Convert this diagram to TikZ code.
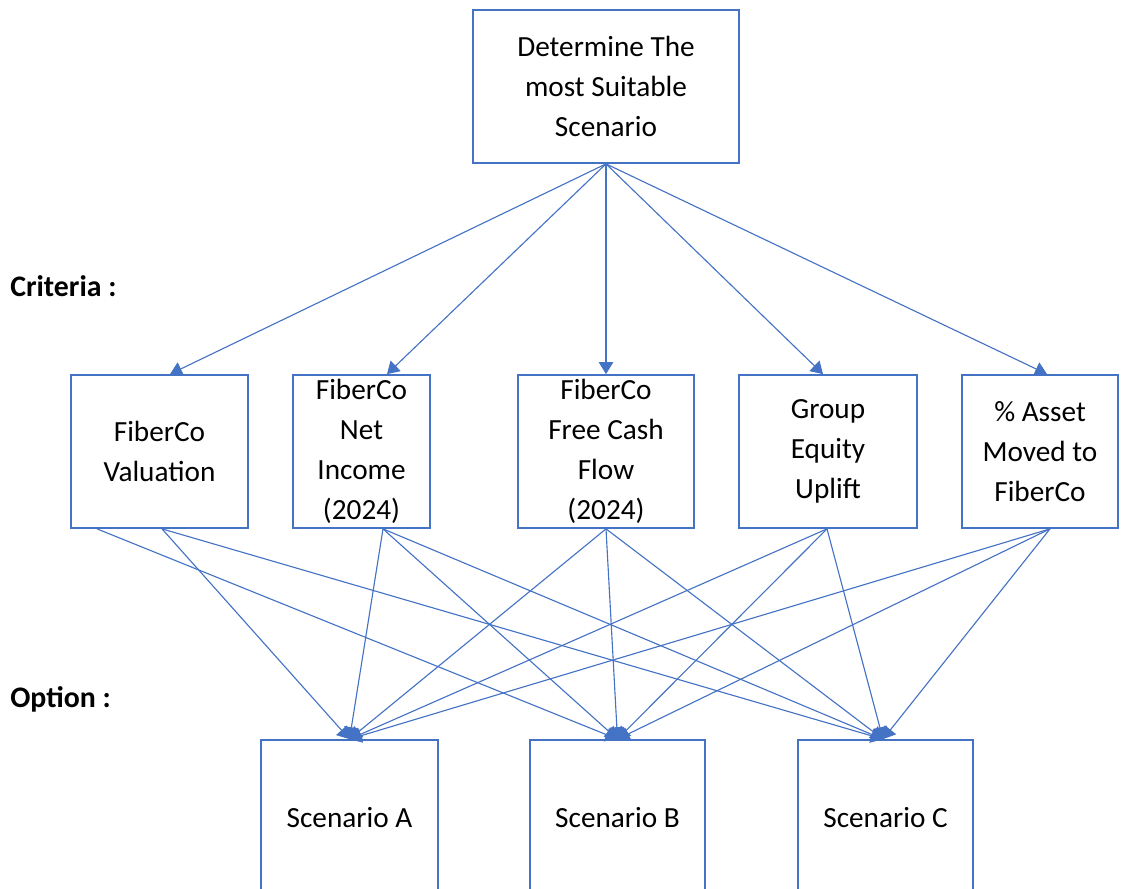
\documentclass[tikz,border=0pt]{standalone}
\usepackage{fontspec}
\setmainfont{Carlito}
\usetikzlibrary{arrows.meta,calc}
\definecolor{officeblue}{HTML}{4472C4}

\begin{document}
\begin{tikzpicture}[
      x=0.025cm, y=-0.025cm,
      font=\fontsize{20.8}{28.5}\selectfont,
      box/.style={draw=officeblue,line width=1.2pt,fill=white,align=center,inner sep=0pt},
      crit/.style={box,minimum height=3.825cm},
      scen/.style={box,minimum height=3.9cm},
      tag/.style={font=\fontsize{21.2}{24}\selectfont\bfseries,anchor=base west,inner sep=0pt},
      link/.style={draw=officeblue,line width=0.8pt,-{Triangle[length=3mm,width=3.6mm]}}
    ]
      \useasboundingbox (0,0) rectangle (1128,888);
      \node[box,minimum width=6.65cm,minimum height=3.825cm] (goal) at (606,86.5) {Determine The\\most Suitable\\Scenario};
      \node[tag] (criteria) at (10,296) {Criteria :};
      \node[tag] (option) at (10,707) {Option :};
      % criteria
      \node[crit,minimum width=4.425cm] (valuation) at (159.5,451.5) {FiberCo\\Valuation};
      \node[crit,minimum width=3.425cm] (netincome) at (361.5,451.5) {FiberCo\\Net\\Income\\(2024)};
      \node[crit,minimum width=4.4cm] (cashflow) at (606,451.5) {FiberCo\\Free Cash\\Flow\\(2024)};
      \node[crit,minimum width=4.45cm] (equity) at (828,451.5) {Group\\Equity\\Uplift};
      \node[crit,minimum width=3.9cm] (asset) at (1040,451.5) {\% Asset\\Moved to\\FiberCo};
      % options
      \node[scen,minimum width=4.425cm] (scenA) at (349.5,818) {Scenario A};
      \node[scen,minimum width=4.375cm] (scenB) at (617.5,818) {Scenario B};
      \node[scen,minimum width=4.375cm] (scenC) at (885.5,818) {Scenario C};
      % goal to criteria
      \draw[link] (goal.south) -- ($(valuation.north)+(10.5,0)$);
      \draw[link] (goal.south) -- ($(netincome.north)+(25.5,0)$);
      \draw[link] (goal.south) -- (cashflow.north);
      \draw[link] (goal.south) -- ($(equity.north)+(-5,0)$);
      \draw[link] (goal.south) -- ($(asset.north)+(7,0)$);
      % criteria to options
      \draw[link] ($(valuation.south)+(2.5,0)$) -- (scenA.north);
      \draw[link] ($(valuation.south)+(-62.5,0)$) -- (scenB.north);
      \draw[link] ($(valuation.south)+(2.5,0)$) -- ($(scenC.north)+(-2.5,0)$);
      \draw[link] ($(netincome.south)+(21.5,0)$) -- (scenA.north);
      \draw[link] ($(netincome.south)+(21.5,0)$) -- (scenB.north);
      \draw[link] ($(netincome.south)+(21.5,0)$) -- ($(scenC.north)+(-2.5,0)$);
      \draw[link] (cashflow.south) -- (scenA.north);
      \draw[link] (cashflow.south) -- (scenB.north);
      \draw[link] (cashflow.south) -- ($(scenC.north)+(-2.5,0)$);
      \draw[link] ($(equity.south)+(-1,0)$) -- (scenA.north);
      \draw[link] ($(equity.south)+(-1,0)$) -- (scenB.north);
      \draw[link] ($(equity.south)+(-1,0)$) -- ($(scenC.north)+(-2.5,0)$);
      \draw[link] ($(asset.south)+(10,0)$) -- (scenA.north);
      \draw[link] ($(asset.south)+(10,0)$) -- (scenB.north);
      \draw[link] ($(asset.south)+(10,0)$) -- ($(scenC.north)+(-2.5,0)$);
    \end{tikzpicture}
\end{document}
